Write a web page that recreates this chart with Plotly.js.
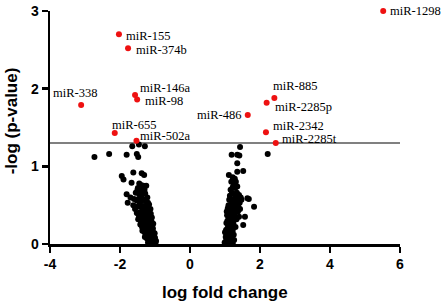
<!DOCTYPE html>
<html>
<head>
<meta charset="utf-8">
<script src="https://cdn.plot.ly/plotly-3.0.1.min.js"></script>
<style>html,body{margin:0;padding:0;background:#fff;}#chart{width:447px;height:307px;}</style>
</head>
<body>
<div id="chart"></div>
<script>
// Significant miRNAs (red)
var sigNames = ["miR-1298","miR-155","miR-374b","miR-146a","miR-98","miR-338","miR-655","miR-502a","miR-885","miR-2285p","miR-486","miR-2342","miR-2285t"];
var sigFC    = [5.52, -2.03, -1.77, -1.57, -1.51, -3.11, -2.15, -1.53, 2.41, 2.19, 1.65, 2.17, 2.45];
var sigP     = [3.00, 2.70, 2.52, 1.92, 1.86, 1.79, 1.43, 1.33, 1.88, 1.82, 1.66, 1.44, 1.30];

// Non-significant miRNAs (black), down-regulated side
var downFC = [-1.46,-1.65,-1.29,-1.52,-2.31,-1.81,-1.48,-2.73,
  -1.62,-1.38,-1.31,-1.95,-1.90,-1.67,
  -1.45,-1.40,-1.33,-1.25,-1.49,
  -1.50,-1.42,-1.36,-1.30,-1.81,-1.55,-1.45,-1.38,-1.28,-1.22,
  -1.78,-1.60,-1.52,-1.47,-1.40,-1.33,-1.26,-1.20,-1.70,
  -1.57,-1.50,-1.44,-1.38,-1.32,-1.27,-1.22,-1.18,-1.62,
  -1.52,-1.47,-1.42,-1.36,-1.31,-1.26,-1.21,-1.16,-1.12,-1.45,
  -1.48,-1.40,-1.35,-1.29,-1.24,-1.19,-1.14,-1.10,
  -1.42,-1.37,-1.32,-1.27,-1.22,-1.17,-1.12,-1.08,-1.05,
  -1.36,-1.30,-1.25,-1.20,-1.15,-1.10,-1.06,-1.03,
  -1.29,-1.23,-1.18,-1.13,-1.08,-1.04,-1.00,
  -1.20,-1.15,-1.11,-1.07,-1.03,-0.99,-0.97,
  -1.44,-1.34,-1.24,-1.17,-1.39,-1.29,-1.19,-1.13,-1.09,-1.34,-1.24,-1.16,-1.11,-1.06,-1.26,-1.16,-1.06,-1.01,-1.10,-1.02];
var downP  = [1.28,1.26,1.26,1.16,1.16,1.15,1.12,1.12,
  0.92,0.91,0.89,0.875,0.83,0.79,
  0.78,0.76,0.75,0.75,0.72,
  0.70,0.69,0.68,0.70,0.64,0.66,0.64,0.62,0.65,0.60,
  0.53,0.58,0.56,0.58,0.55,0.57,0.55,0.53,0.60,
  0.45,0.48,0.50,0.47,0.49,0.46,0.48,0.44,0.50,
  0.40,0.38,0.41,0.37,0.40,0.38,0.41,0.36,0.39,0.35,
  0.32,0.30,0.33,0.31,0.34,0.30,0.32,0.29,
  0.25,0.22,0.26,0.23,0.25,0.21,0.24,0.22,0.26,
  0.17,0.15,0.18,0.14,0.17,0.13,0.16,0.12,
  0.09,0.07,0.10,0.06,0.09,0.05,0.08,
  0.02,0.01,0.03,0.00,0.02,0.01,0.04,
  0.53,0.44,0.43,0.51,0.28,0.27,0.35,0.45,0.34,0.20,0.19,0.27,0.19,0.20,0.11,0.11,0.12,0.14,0.05,0.06];

// Non-significant miRNAs (black), up-regulated side
var upFC = [1.43,1.19,1.35,1.41,2.22,1.35,1.52,1.35,1.11,
  1.22,1.28,1.18,1.25,1.31,1.22,1.29,1.35,1.16,
  1.20,1.27,1.34,1.40,1.45,1.14,1.31,1.64,1.68,1.83,1.57,1.52,
  1.12,1.18,1.24,1.30,1.36,1.42,1.47,1.10,1.21,1.33,
  1.08,1.14,1.19,1.25,1.31,1.37,1.43,1.11,1.22,
  1.06,1.11,1.16,1.21,1.27,1.33,1.40,1.09,1.18,
  1.04,1.09,1.14,1.19,1.24,1.30,1.07,1.16,
  1.03,1.08,1.12,1.17,1.22,1.05,1.14,
  1.02,1.06,1.10,1.15,1.19,1.03,
  0.99,1.04,1.08,1.12,1.17,1.22,1.01,
  1.15,1.26,1.38,1.13,1.23,1.28,1.05,1.13,1.24,1.07,1.12,1.20,1.00,1.09,1.14,1.25,1.26];
var upP  = [1.25,1.15,1.15,1.14,1.16,1.04,0.94,0.93,0.89,
  0.86,0.84,0.80,0.78,0.80,0.73,0.72,0.74,0.70,
  0.66,0.64,0.66,0.63,0.60,0.62,0.60,0.59,0.58,0.48,0.35,0.245,
  0.57,0.55,0.57,0.54,0.56,0.53,0.57,0.50,0.51,0.50,
  0.46,0.44,0.47,0.43,0.46,0.42,0.45,0.40,0.41,
  0.37,0.34,0.37,0.33,0.36,0.32,0.35,0.30,0.31,
  0.27,0.24,0.27,0.23,0.26,0.22,0.20,0.21,
  0.18,0.15,0.18,0.14,0.17,0.12,0.12,
  0.09,0.07,0.10,0.06,0.08,0.04,
  0.02,0.01,0.03,0.00,0.02,0.01,0.00,
  0.58,0.52,0.48,0.49,0.47,0.40,0.42,0.39,0.30,0.30,0.28,0.29,0.15,0.16,0.09,0.12,0.05];

var threshold = 1.3;
var xTickVals = [-4,-2,0,2,4,6];
var xTickText = ["-4","-2","0","2","4","6"];
var yTickVals = [0,1,2,3];
var yTickText = ["0","1","2","3"];

// label placement style (pixel offsets)
var labelStyle = {
  "miR-1298":[5,0,"left"], "miR-155":[5,-2,"left"], "miR-374b":[6,-2,"left"],
  "miR-146a":[3,7,"left"], "miR-98":[6,-1,"left"], "miR-338":[-6,12,"center"],
  "miR-655":[-5,8,"left"], "miR-502a":[2,5,"left"], "miR-885":[-3,12,"left"],
  "miR-2285p":[6,-4,"left"], "miR-486":[-5,0,"right"], "miR-2342":[5,6,"left"],
  "miR-2285t":[4,4,"left"]
};

var sans = "Liberation Sans";
var serif = "'Liberation Serif', 'Times New Roman', Times, serif";
var traces = [
  {x: downFC.concat(upFC), y: downP.concat(upP), type:"scatter", mode:"markers",
   marker:{color:"#000", size:6}, cliponaxis:false, hoverinfo:"skip"},
  {x: sigFC, y: sigP, type:"scatter", mode:"markers",
   marker:{color:"#ee1111", size:6}, cliponaxis:false, hoverinfo:"skip"}
];

var annotations = sigNames.map(function(n,i){
  var s = labelStyle[n];
  return {x: sigFC[i], y: sigP[i], xref:"x", yref:"y", text:n, showarrow:false,
    xanchor:s[2], yanchor:"middle", xshift:s[0], yshift:s[1],
    font:{family:serif, size:12.5, color:"#000"}};
});
annotations.push({xref:"paper", yref:"paper", x:0.5, y:-0.21, text:"log fold change",
  showarrow:false, xanchor:"center", yanchor:"middle",
  font:{family:sans, size:17, color:"#000", weight:"bold"}});
annotations.push({xref:"paper", yref:"paper", x:-0.109, y:0.53, text:"-log (p-value)",
  showarrow:false, xanchor:"center", yanchor:"middle", textangle:-90,
  font:{family:sans, size:17, color:"#000", weight:"bold"}});

var layout = {
  width:447, height:307,
  margin:{l:50, r:47, t:11, b:63, pad:0},
  paper_bgcolor:"#fff", plot_bgcolor:"#fff",
  showlegend:false,
  xaxis:{range:[-4,6], tickvals:xTickVals, ticktext:xTickText, showgrid:false, zeroline:false,
    showline:true, linecolor:"#000", linewidth:2.5, ticks:"outside", ticklen:6, tickwidth:2.5, tickcolor:"#000",
    tickfont:{family:sans, size:14, color:"#000", weight:"bold"}, fixedrange:true},
  yaxis:{range:[0,3], tickvals:yTickVals, ticktext:yTickText, showgrid:false, zeroline:false,
    showline:true, linecolor:"#000", linewidth:2.5, ticks:"outside", ticklen:6, tickwidth:2.5, tickcolor:"#000",
    tickfont:{family:sans, size:14, color:"#000", weight:"bold"}, fixedrange:true},
  shapes:[{type:"line", xref:"x", yref:"y", x0:-4, x1:6, y0:threshold, y1:threshold,
    line:{color:"#808080", width:2}, layer:"below"}],
  annotations: annotations
};

Plotly.newPlot("chart", traces, layout, {staticPlot:true, displayModeBar:false});
</script>
</body>
</html>
